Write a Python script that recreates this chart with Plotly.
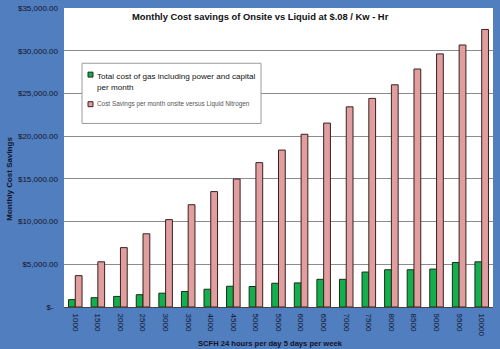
import plotly.graph_objects as go

# SCFH flow rates (24 hours per day, 5 days per week)
categories = ["1000", "1500", "2000", "2500", "3000", "3500", "4000", "4500", "5000", "5500",
              "6000", "6500", "7000", "7500", "8000", "8500", "9000", "9500", "10000"]

# Total cost of gas including power and capital, per month ($)
gas_cost = [860, 1090, 1240, 1440, 1620, 1820, 2080, 2430, 2400, 2780,
            2820, 3240, 3240, 4090, 4360, 4360, 4440, 5210, 5290]

# Cost savings per month, onsite versus liquid nitrogen ($)
savings = [3670, 5290, 6950, 8570, 10230, 11970, 13510, 14980, 16900, 18370,
           20220, 21530, 23430, 24420, 26010, 27860, 29630, 30670, 32490]

y_ticks = [0, 5000, 10000, 15000, 20000, 25000, 30000, 35000]
y_tick_text = ["$-&nbsp;&nbsp;", "$5,000.00", "$10,000.00", "$15,000.00", "$20,000.00",
               "$25,000.00", "$30,000.00", "$35,000.00"]

gas_label = "Total cost of gas including power and capital<br>per month"
savings_label = "Cost Savings per month onsite versus Liquid Nitrogen"

BG = "#507EBE"
TXT = "#14142a"
FONT = "Liberation Sans, Arial, sans-serif"
GREEN = "#12B04C"
PINK = "#E09E9E"

W, H = 500, 349
ML, MR, MT, MB = 64, 7, 4, 42
PW, PH = W - ML - MR, H - MT - MB


def px_x(x):
    return (x - ML) / PW


def px_y(y):
    return 1 - (y - MT) / PH


fig = go.Figure()
fig.add_trace(go.Bar(
    x=categories, y=gas_cost, name=gas_label.replace("<br>", " "),
    marker=dict(color=GREEN, line=dict(color="#1e2a1e", width=1)),
))
fig.add_trace(go.Bar(
    x=categories, y=savings, name=savings_label,
    marker=dict(color=PINK, line=dict(color="#3a2020", width=1)),
))

# Legend box drawn inside the plot area
shapes = [
    dict(type="rect", xref="paper", yref="paper",
         x0=px_x(82), x1=px_x(261), y0=px_y(121), y1=px_y(60),
         fillcolor="white", line=dict(color="#9a9a9a", width=1), layer="above"),
]
legend_items = [(GREEN, "#1e2a1e", 71.5), (PINK, "#3a2020", 101.5)]
for fill, edge, cy in legend_items:
    shapes.append(dict(type="rect", xref="paper", yref="paper",
                       x0=px_x(88), x1=px_x(93), y0=px_y(cy + 2.5), y1=px_y(cy - 2.5),
                       fillcolor=fill, line=dict(color=edge, width=1), layer="above"))

annotations = [
    dict(text="<b>Monthly Cost savings of Onsite vs Liquid at $.08 / Kw - Hr</b>",
         xref="paper", yref="paper", x=px_x(260.5), y=px_y(13),
         xanchor="center", yanchor="middle", showarrow=False,
         font=dict(size=9.4, color="#111")),
    dict(text="<b>Monthly Cost Savings</b>",
         xref="paper", yref="paper", x=px_x(10), y=px_y(177), textangle=-90,
         xanchor="center", yanchor="middle", showarrow=False,
         font=dict(size=8, color=TXT)),
    dict(text="<b>SCFH 24 hours per day 5 days per week</b>",
         xref="paper", yref="paper", x=px_x(270), y=px_y(344),
         xanchor="center", yanchor="middle", showarrow=False,
         font=dict(size=7.6, color=TXT)),
    dict(text=gas_label, align="left",
         xref="paper", yref="paper", x=px_x(95), y=px_y(67),
         xanchor="left", yanchor="top", showarrow=False,
         font=dict(size=8.1, color="#111")),
    dict(text=savings_label, align="left",
         xref="paper", yref="paper", x=px_x(95), y=px_y(101.5),
         xanchor="left", yanchor="middle", showarrow=False,
         font=dict(size=6.4, color="#555")),
]

fig.update_layout(
    width=W, height=H,
    margin=dict(l=ML, r=MR, t=MT, b=MB),
    paper_bgcolor=BG,
    plot_bgcolor="white",
    font=dict(family=FONT, color=TXT, size=8),
    barmode="group",
    bargap=0.4,
    bargroupgap=0,
    showlegend=False,
    xaxis=dict(
        type="category", tickangle=90, tickfont=dict(size=8, color=TXT),
        ticklabelstandoff=4,
        showline=True, linecolor="#444", linewidth=1,
        ticks="", showgrid=False,
    ),
    yaxis=dict(
        range=[0, 35000.5], tickvals=y_ticks, ticktext=y_tick_text,
        tickfont=dict(size=8, color=TXT), ticklabelstandoff=5,
        ticklabeloverflow="allow",
        showgrid=True, gridcolor="#8c8c8c", gridwidth=1,
        zeroline=False, ticks="",
    ),
    shapes=shapes,
    annotations=annotations,
)

fig.write_html("out.html")
